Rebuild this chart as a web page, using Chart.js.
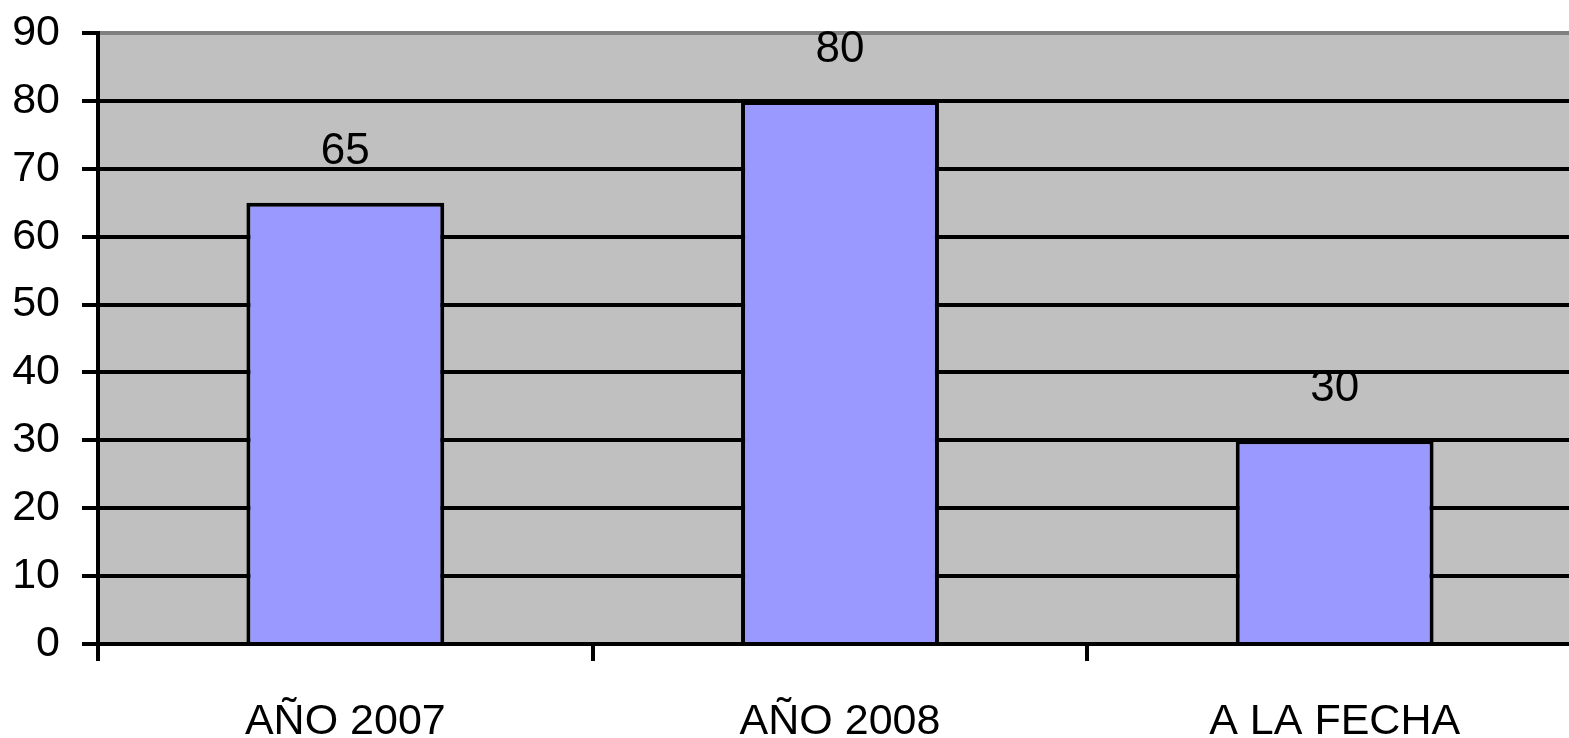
<!DOCTYPE html>
<html>
<head>
<meta charset="utf-8">
<script src="https://cdn.jsdelivr.net/npm/chart.js@4.4.0/dist/chart.umd.min.js"></script>
<style>
  html, body { margin: 0; padding: 0; background: #fff; overflow: hidden; }
  #wrap { width: 1582px; height: 738px; }
</style>
</head>
<body>
<div id="wrap"><canvas id="c"></canvas></div>
<script>
var categories = ['AÑO 2007', 'AÑO 2008', 'A LA FECHA'];
var values = [65, 80, 30];
var yMin = 0, yMax = 90, yStep = 10;

// gray plot background
var plotBg = {
    id: 'plotBg',
    beforeDraw: function (chart) {
        var a = chart.chartArea, ctx = chart.ctx;
        ctx.save();
        ctx.fillStyle = '#c0c0c0';
        ctx.fillRect(a.left, a.top, a.right - a.left, a.bottom - a.top);
        ctx.restore();
    }
};

// value labels above the bars
var barLabels = {
    id: 'barLabels',
    afterDatasetsDraw: function (chart) {
        var ctx = chart.ctx;
        var meta = chart.getDatasetMeta(0);
        ctx.save();
        ctx.fillStyle = '#000';
        ctx.font = '44px "Liberation Sans", Arial, sans-serif';
        ctx.textAlign = 'center';
        ctx.textBaseline = 'middle';
        meta.data.forEach(function (bar, i) {
            ctx.fillText(String(values[i]), bar.x, bar.y - 51);
        });
        ctx.restore();
    }
};

var font = { family: '"Liberation Sans", Arial, sans-serif', size: 43 };

new Chart(document.getElementById('c'), {
    type: 'bar',
    data: {
        labels: categories,
        datasets: [{
            data: values,
            backgroundColor: '#9999ff',
            borderColor: '#000',
            borderWidth: 4,
            categoryPercentage: 1,
            barPercentage: 0.4
        }]
    },
    options: {
        responsive: true,
        maintainAspectRatio: false,
        animation: false,
        layout: { padding: { top: 33, right: 0, left: 0, bottom: 0 } },
        plugins: { legend: { display: false }, tooltip: { enabled: false } },
        scales: {
            x: {
                grid: {
                    offset: true,
                    drawOnChartArea: false,
                    drawTicks: true,
                    tickLength: 17,
                    tickColor: '#000',
                    lineWidth: 4
                },
                border: { color: '#000', width: 4 },
                ticks: { color: '#000', font: font, padding: 35, maxRotation: 0 },
                afterFit: function (s) {
                    s.height = 94;
                    s.paddingLeft = 0;
                    s.paddingRight = 0;
                }
            },
            y: {
                min: yMin,
                max: yMax,
                ticks: { stepSize: yStep, color: '#000', font: font, padding: 22 },
                grid: {
                    color: function (c) { return c.tick && c.tick.value === yMax ? '#808080' : '#000'; },
                    tickColor: '#000',
                    lineWidth: 4,
                    tickLength: 16
                },
                border: { color: '#000', width: 4 },
                afterFit: function (s) {
                    s.width = 98;
                    s.paddingTop = 0;
                    s.paddingBottom = 0;
                }
            }
        }
    },
    plugins: [plotBg, barLabels]
});
</script>
</body>
</html>
